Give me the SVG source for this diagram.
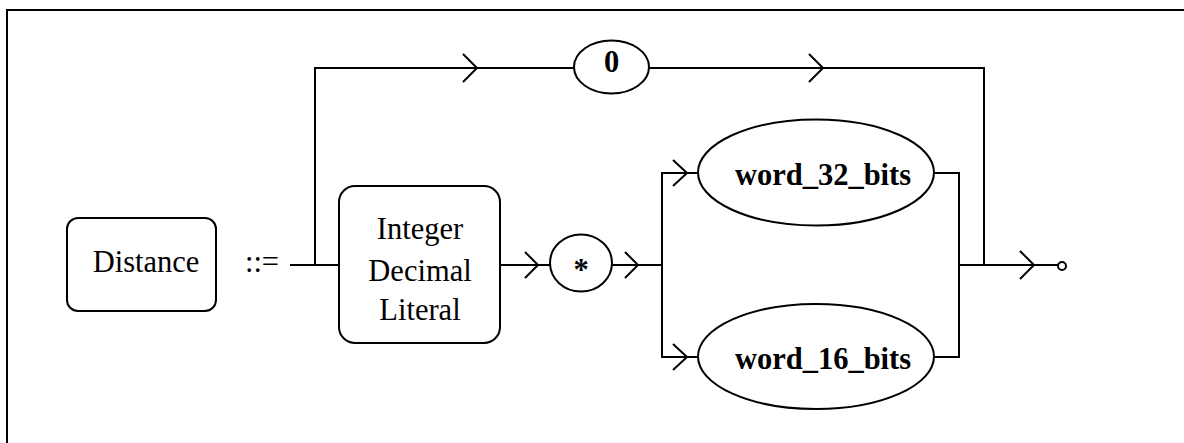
<svg xmlns="http://www.w3.org/2000/svg" width="1184" height="443" viewBox="0 0 1184 443">
<style>
.ln{fill:none;stroke:#000;stroke-width:2}
.nd{fill:#fff;stroke:#000;stroke-width:2}
.t{font-family:"Liberation Serif","Times New Roman",serif;font-size:30.5px;fill:#000;text-anchor:middle}
.b{font-weight:bold}
</style>
<rect x="7" y="10" width="1200" height="460" fill="#fff" stroke="#000" stroke-width="2"/>
<g id="connectors" class="ln">
<path d="M290 265H340M315 265V68H574M649 68H984V265"/>
<path d="M463 54L477 68L463 82M809 54L823 68L809 82"/>
<path d="M500 265H550M525 252L538 265L525 278"/>
<path d="M612 265H662M625 252L638 265L625 278"/>
<path d="M698 173H662V357H698M673 160L687 173L673 186M673 344L687 357L673 370"/>
<path d="M934 173H959V357H934M959 265H1058M1020 251L1034 265L1020 279"/>
<circle cx="1062" cy="266" r="4" fill="#fff"/>
</g>
<g id="distance">
<rect x="67" y="218" width="149" height="93" rx="11" class="nd"/>
<text x="146" y="272" class="t">Distance</text>
</g>
<text x="262" y="272" class="t">::=</text>
<g id="integer">
<rect x="339" y="186" width="161" height="157" rx="16" class="nd"/>
<text x="420" y="239" class="t">Integer</text>
<text x="420" y="281" class="t">Decimal</text>
<text x="420" y="320" class="t">Literal</text>
</g>
<g id="star">
<ellipse cx="581" cy="263" rx="31" ry="28.5" class="nd"/>
<text x="581" y="280" class="t b">*</text>
</g>
<g id="zero">
<ellipse cx="611.5" cy="67" rx="37.5" ry="26.5" class="nd"/>
<text x="611.5" y="72" class="t b">0</text>
</g>
<g id="word32">
<ellipse cx="816" cy="172.5" rx="118" ry="53" class="nd"/>
<text x="823" y="185" class="t b">word_32_bits</text>
</g>
<g id="word16">
<ellipse cx="816" cy="356.5" rx="118" ry="52.5" class="nd"/>
<text x="823" y="369" class="t b">word_16_bits</text>
</g>
</svg>
